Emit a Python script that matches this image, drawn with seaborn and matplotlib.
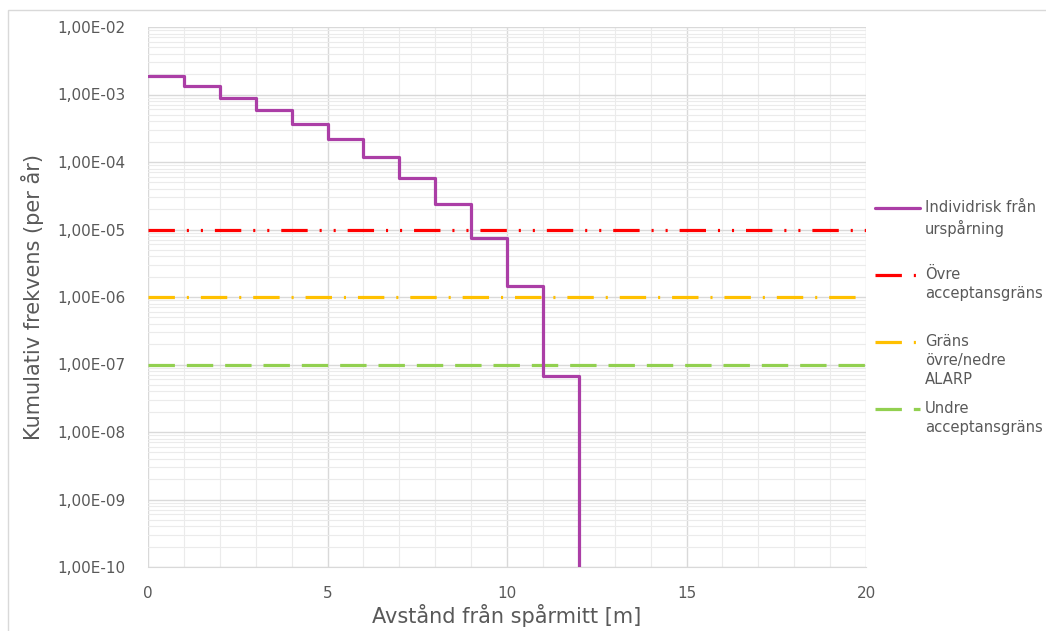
import numpy as np
import pandas as pd
import matplotlib
matplotlib.use("Agg")
from matplotlib import pyplot as plt
from matplotlib.ticker import FixedLocator, FuncFormatter, LogLocator, NullFormatter
from matplotlib.patches import Rectangle
from matplotlib.lines import Line2D
import seaborn as sns

# step curve: kumulativ frekvens per avstand (last point drops below axis)
distance = [0, 1, 2, 3, 4, 5, 6, 7, 8, 9, 10, 11, 12]
risk = [1.88e-3, 1.34e-3, 8.9e-4, 5.9e-4, 3.66e-4, 2.19e-4, 1.19e-4,
        5.8e-5, 2.39e-5, 7.5e-6, 1.46e-6, 6.8e-8, 1e-12]

limit_x = [0, 20]
upper_limit = 1e-5
alarp_limit = 1e-6
lower_limit = 1e-7

labels = ["Individrisk från\nurspårning", "Övre\nacceptansgräns",
          "Gräns\növre/nedre\nALARP", "Undre\nacceptansgräns"]

grey = "#595959"
colors = ["#ab3ea6", "#ff0000", "#ffc000", "#92d050"]
styles = ["-",
          (0, (19, 8.6, 1.5, 8.6, 1.5, 8.6)),
          (0, (19, 8.6, 1.5, 8.6)),
          (0, (19, 8.6))]
lw = 2.3

sns.set_style("white")
plt.rcParams['font.family'] = ['DejaVu Sans']
plt.rcParams['lines.scale_dashes'] = False

fig = plt.figure(figsize=(10.46, 6.31), dpi=100)
ax = fig.add_axes([148/1046, 1 - 567/631, (866 - 148)/1046, (567 - 27)/631])

df = pd.DataFrame({"x": distance, "y": risk})
sns.lineplot(data=df, x="x", y="y", ax=ax, color=colors[0], linewidth=lw,
             drawstyle="steps-post", zorder=5)
for lim, c, ls in zip([upper_limit, alarp_limit, lower_limit], colors[1:], styles[1:]):
    sns.lineplot(x=limit_x, y=[lim]*2, ax=ax, color=c, linewidth=lw, linestyle=ls, zorder=4)

ax.set_yscale("log")
ax.set_ylim(1e-10, 1e-2)
ax.set_xlim(0, 20)

ax.xaxis.set_major_locator(FixedLocator([0, 5, 10, 15, 20]))
ax.xaxis.set_minor_locator(FixedLocator(list(range(0, 21))))
ax.yaxis.set_major_locator(LogLocator(base=10, numticks=20))
ax.yaxis.set_minor_locator(LogLocator(base=10, subs=np.arange(2, 10), numticks=100))
ax.yaxis.set_major_formatter(FuncFormatter(lambda v, p: f"{v:.2E}".replace(".", ",")))
ax.yaxis.set_minor_formatter(NullFormatter())

ax.grid(which="major", color="#d9d9d9", linewidth=1.0)
ax.grid(which="minor", color="#ebebeb", linewidth=0.8)
ax.set_axisbelow(True)
ax.tick_params(which="both", length=0, labelsize=11, colors=grey)
ax.tick_params(axis="y", pad=16)
ax.tick_params(axis="x", pad=14)

for s in ["top", "right", "left"]:
    ax.spines[s].set_visible(False)
ax.spines["bottom"].set_color("#d9d9d9")

ax.set_xlabel("Avstånd från spårmitt [m]", fontsize=15, color=grey, labelpad=2)
ax.set_ylabel("Kumulativ frekvens (per år)", fontsize=15, color=grey, labelpad=10)

# Excel-style legend: evenly spaced entries, handle level with the first text line
W, H = 1046, 631
for i, (lab, c, ls) in enumerate(zip(labels, colors, styles)):
    yc = 208 + i * 67
    fig.lines.append(Line2D([875/W, 920/W], [1 - yc/H, 1 - yc/H], transform=fig.transFigure,
                            color=c, linewidth=lw, linestyle=ls))
    fig.text(925/W, 1 - (yc - 8)/H, lab, fontsize=10.6, color=grey, va="top", ha="left",
             linespacing=1.35)

fig.patches.append(Rectangle((8/1046, -0.01), 1.0, 1 - 10/631 + 0.01,
                             transform=fig.transFigure, fill=False,
                             edgecolor="#d9d9d9", linewidth=1))

fig.savefig("out.png", dpi=100)
